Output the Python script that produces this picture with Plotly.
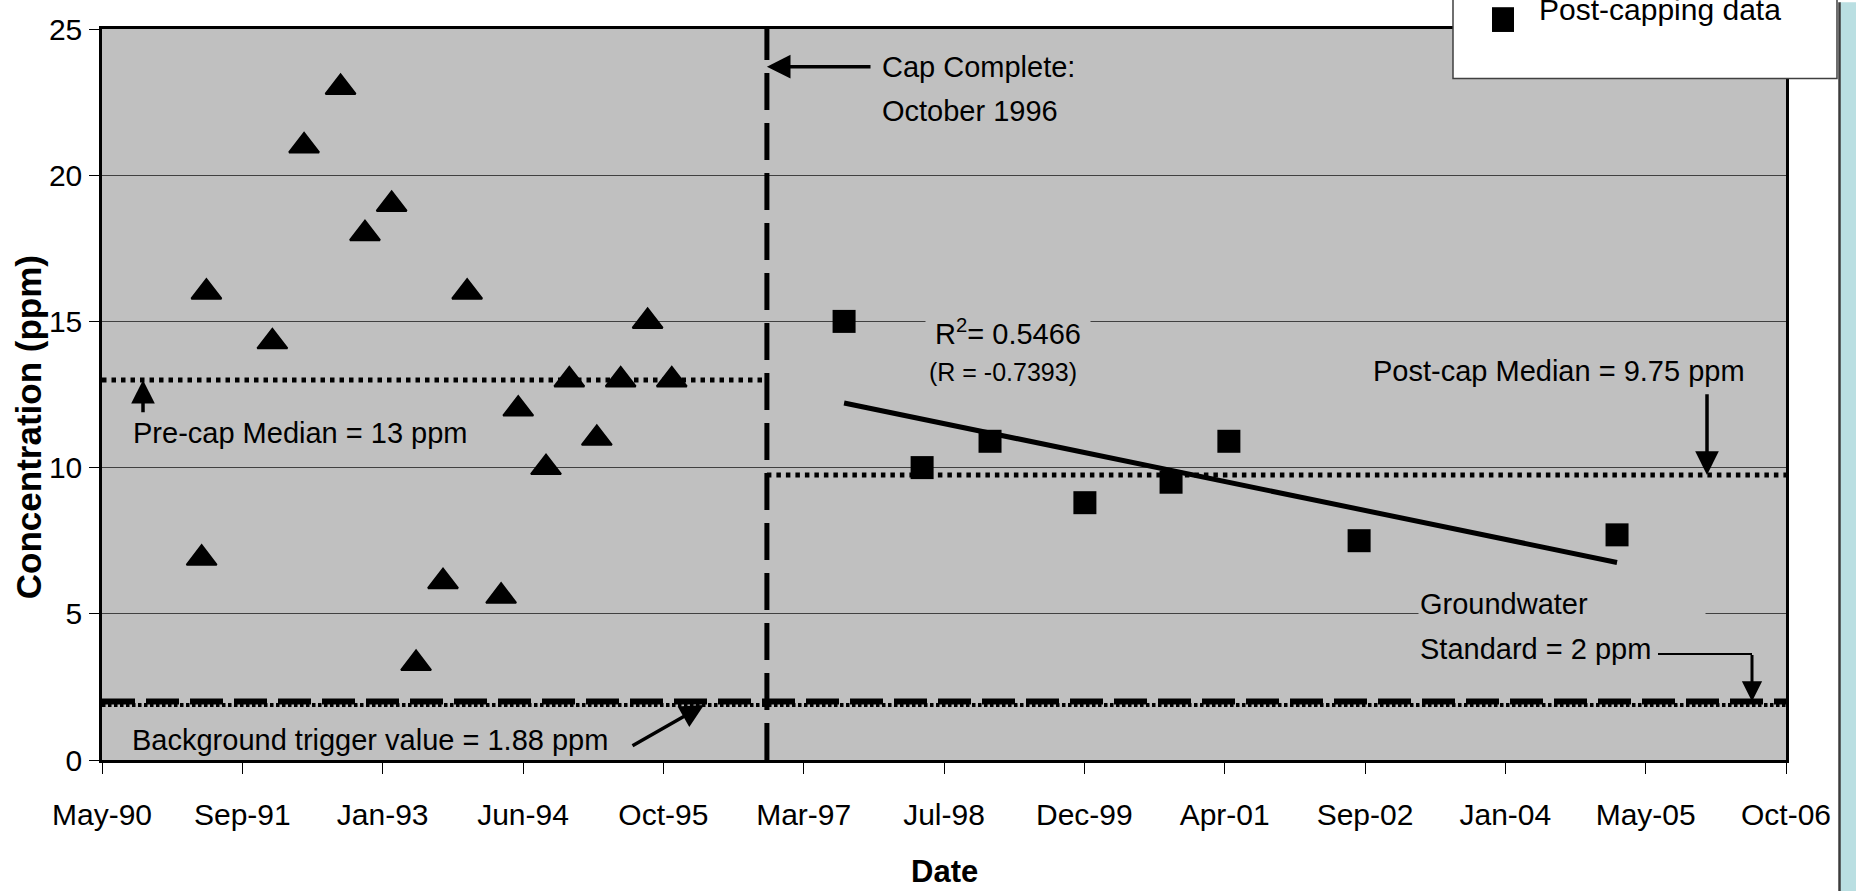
import numpy as np
import pandas as pd
import plotly.graph_objects as go

# ---- data -------------------------------------------------------------
pre_dates = ["1991-04-27", "1991-05-14", "1992-01-04", "1992-04-26", "1992-09-03",
             "1992-11-29", "1993-03-04", "1993-05-30", "1993-09-03", "1993-11-28",
             "1994-03-29", "1994-05-29", "1994-09-05", "1994-11-27", "1995-03-05",
             "1995-05-29", "1995-09-02", "1995-11-27"]
pre_ppm = [6.9, 16, 14.3, 21, 23, 18, 19, 3.3, 6.1, 16, 5.6, 12, 10, 13, 11, 13, 15, 13]

post_dates = ["1997-08-02", "1998-05-07", "1999-01-04", "1999-12-08", "2000-10-10",
              "2001-05-04", "2002-08-11", "2005-02-15"]
post_ppm = [15, 10, 10.9, 8.8, 9.5, 10.9, 7.5, 7.7]

tick_dates = ["1990-05-07", "1991-09-19", "1993-01-31", "1994-06-15", "1995-10-28",
              "1997-03-11", "1998-07-24", "1999-12-06", "2001-04-19", "2002-09-01",
              "2004-01-14", "2005-05-28", "2006-10-10"]
tick_labels = ["May-90", "Sep-91", "Jan-93", "Jun-94", "Oct-95", "Mar-97", "Jul-98",
               "Dec-99", "Apr-01", "Sep-02", "Jan-04", "May-05", "Oct-06"]

cap_date = "1996-10-31"
pre_median = 13
post_median = 9.75
gw_standard = 2
bg_trigger = 1.88
y_ticks = [0, 5, 10, 15, 20, 25]

# ---- layout geometry (pixels) -----------------------------------------
W, H = 1856, 891
ML, MR, MT, MB = 102, 70, 22, 131
PW, PH = W - ML - MR, H - MT - MB
x_start, x_end = tick_dates[0], tick_dates[-1]
y_top = y_ticks[-1]


def px_x(p):
    return (p - ML) / PW


def px_y(p):
    return (H - MB - p) / PH


def date_px(d):
    t0, t1 = pd.Timestamp(x_start), pd.Timestamp(x_end)
    return ML + (pd.Timestamp(d) - t0) / (t1 - t0) * PW


def val_py(v):
    return H - MB - v / y_top * PH


FONT = "Liberation Sans, Arial, sans-serif"
PLOT_BG = "#C0C0C0"

# ---- linear trend on post-capping data ----------------------------------
t_post = pd.to_datetime(post_dates)
days = np.asarray((t_post - t_post[0]).days, dtype=float)
slope, intercept = np.polyfit(days, post_ppm, 1)
trend_x = [post_dates[0], post_dates[-1]]
trend_y = [intercept, intercept + slope * days[-1]]

fig = go.Figure()
fig.add_trace(go.Scatter(
    x=pre_dates, y=pre_ppm, mode="markers", name="Pre-capping data",
    marker=dict(symbol="triangle-up", size=26, color="black",
                line=dict(color="black", width=2)),
    showlegend=False))
fig.add_trace(go.Scatter(
    x=post_dates, y=post_ppm, mode="markers", name="Post-capping data",
    marker=dict(symbol="square", size=23, color="black", line=dict(width=0)),
    showlegend=False))
fig.add_trace(go.Scatter(
    x=trend_x, y=trend_y, mode="lines", name="Linear (Post-capping data)",
    line=dict(color="black", width=5), showlegend=False))

shapes = []
# medians, standard, background trigger, cap completion
shapes.append(dict(type="line", xref="x", yref="y", x0=x_start, x1=cap_date,
                   y0=pre_median, y1=pre_median,
                   line=dict(color="black", width=5, dash="4.5px,5px")))
shapes.append(dict(type="line", xref="x", yref="y", x0=cap_date, x1=x_end,
                   y0=post_median, y1=post_median,
                   line=dict(color="black", width=5, dash="4.5px,5px")))
shapes.append(dict(type="line", xref="x", yref="y", x0=x_start, x1=x_end,
                   y0=gw_standard, y1=gw_standard,
                   line=dict(color="black", width=6, dash="33px,11px")))
shapes.append(dict(type="line", xref="x", yref="y", x0=x_start, x1=x_end,
                   y0=bg_trigger, y1=bg_trigger,
                   line=dict(color="black", width=4, dash="3.5px,2.5px")))
shapes.append(dict(type="line", xref="x", yref="y", x0=cap_date, x1=cap_date,
                   y0=0, y1=y_top,
                   line=dict(color="black", width=5, dash="37px,13px")))

# right-hand page strip
shapes.append(dict(type="rect", xref="paper", yref="paper",
                   x0=px_x(1840), x1=px_x(1860), y0=px_y(H + 5), y1=px_y(-5),
                   fillcolor="#BADFE2", line=dict(width=0), layer="above"))
shapes.append(dict(type="line", xref="paper", yref="paper",
                   x0=px_x(1839.5), x1=px_x(1839.5), y0=px_y(H + 5), y1=px_y(-5),
                   line=dict(color="#3C3C3C", width=2.5), layer="above"))

# legend box (top edge runs off the page)
shapes.append(dict(type="rect", xref="paper", yref="paper",
                   x0=px_x(1453), x1=px_x(1837), y0=px_y(72), y1=px_y(-30),
                   fillcolor="white", line=dict(color="#404040", width=1.5),
                   layer="above"))
shapes.append(dict(type="rect", xref="paper", yref="paper",
                   x0=px_x(1492), x1=px_x(1514), y0=px_y(25), y1=px_y(0),
                   fillcolor="black", line=dict(width=0), layer="above"))

# connector from the groundwater label
shapes.append(dict(type="line", xref="paper", yref="paper",
                   x0=px_x(1658), x1=px_x(1752), y0=px_y(653), y1=px_y(653),
                   line=dict(color="black", width=2), layer="above"))

fig.update_layout(shapes=shapes)

annotations = []


def label(text, x, y, anchor="left", size=29, **kw):
    annotations.append(dict(text=text, xref="paper", yref="paper",
                            x=px_x(x), y=px_y(y), xanchor=anchor, yanchor="middle",
                            showarrow=False, font=dict(family=FONT, size=size,
                                                       color="black"), **kw))


HEAD = dict(showarrow=True, arrowhead=2, arrowsize=1.35, arrowcolor="black",
            standoff=0)


def arrow(x_tip_px, y_val, ax, ay, width=3.5):
    annotations.append(dict(text="", xref="paper", yref="y",
                            x=px_x(x_tip_px), y=y_val, ax=ax, ay=ay,
                            arrowwidth=width, **HEAD))


label("Cap Complete:", 880, 60)
label("October 1996", 880, 105)
label("R<sup>2</sup>= 0.5466", 1008, 328, anchor="center",
      bgcolor=PLOT_BG, width=162)
label("(R = -0.7393)", 1003, 368, anchor="center", size=25)
label("Pre-cap Median = 13 ppm", 131, 430)
label("Post-cap Median = 9.75 ppm", 1371, 367)
label("Groundwater", 1418, 603, bgcolor=PLOT_BG, width=284, align="left")
label("Standard = 2 ppm", 1418, 648)
label("Background trigger value = 1.88 ppm", 130, 740)
label("Post-capping data", 1537, 2, size=30)

# arrows
cap_px = date_px(cap_date)
annotations.append(dict(text="", xref="x", yref="paper", x=cap_date, y=px_y(60),
                        ax=872 - cap_px, ay=0, arrowwidth=3.5, **HEAD))
arrow(143, pre_median, 0, 410 - val_py(pre_median))
arrow(1707, post_median, 0, 390 - val_py(post_median))
arrow(1752, gw_standard, 0, 653 - val_py(gw_standard), width=3)
arrow(704, bg_trigger, 631 - 704, 746 - val_py(bg_trigger))

# axis titles
label("<b>Concentration (ppm)</b>", 28, 424, anchor="center", size=35,
      textangle=-90)
label("<b>Date</b>", 944, 873, anchor="center", size=31)

fig.update_layout(annotations=annotations)

fig.update_layout(
    width=W, height=H,
    margin=dict(l=ML, r=MR, t=MT, b=MB, pad=0),
    paper_bgcolor="white", plot_bgcolor=PLOT_BG,
    font=dict(family=FONT, color="black"),
    showlegend=False,
    xaxis=dict(type="date", range=[x_start, x_end],
               tickmode="array", tickvals=tick_dates, ticktext=tick_labels,
               tickfont=dict(family=FONT, size=30, color="black"),
               ticks="outside", ticklen=11, tickwidth=1, tickcolor="black",
               ticklabelstandoff=15,
               showgrid=False, zeroline=False,
               showline=True, linecolor="black", linewidth=2.5, mirror=True),
    yaxis=dict(range=[0, y_top], tickmode="array", tickvals=y_ticks,
               tickfont=dict(family=FONT, size=30, color="black"),
               ticks="outside", ticklen=10, tickwidth=1, tickcolor="black",
               ticklabelstandoff=1,
               showgrid=True, gridcolor="#404040", gridwidth=1,
               zeroline=False,
               showline=True, linecolor="black", linewidth=2.5, mirror=True),
)

fig.write_html("out.html")
